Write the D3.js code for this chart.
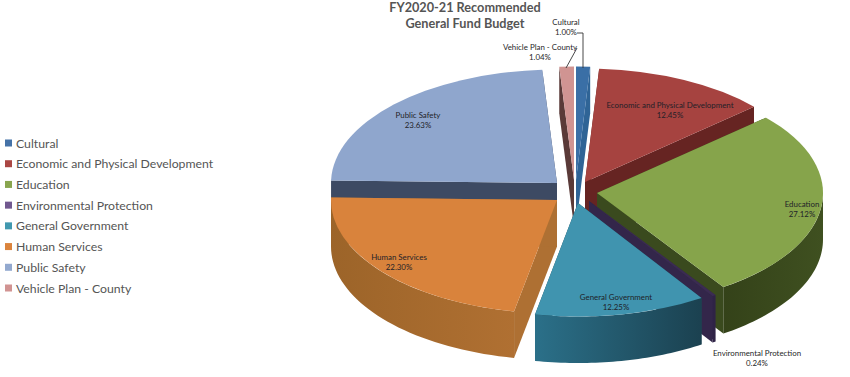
<!DOCTYPE html>
<html><head><meta charset="utf-8">
<script src="https://cdn.jsdelivr.net/npm/d3@7"></script>
<style>html,body{margin:0;padding:0;background:#fff}svg{display:block}text{font-family:Lato,"Noto Sans",sans-serif}</style>
</head><body><svg id="c" width="850" height="377"></svg>
<script>
const categories=["Cultural","Economic and Physical Development","Education","Environmental Protection","General Government","Human Services","Public Safety","Vehicle Plan - County"];
const shares=[1.00,12.45,27.12,0.24,12.25,22.30,23.63,1.04];
const titleLines=["FY2020-21 Recommended","General Fund Budget"];
const legendColors=["#4572A7","#AA4643","#89A54E","#71588F","#4198AF","#DB843D","#93A9CF","#D19392"];
const topColors=["#3a6fa6","#a64340","#86a44b","#3b2c52","#4094af","#d9833c","#8fa6cd","#d09492"];
const cutColors=["#2f6496","#662422","#3a4a1e","#33264a","#1d4654","#ae7033","#3d4a63","#5a3a38"];
const wallStops=[["#2f5f94","#2f5f94"],["#662422","#662422"],["#3f5020","#344219"],["#2f2346","#2f2346"],["#2b7089","#1b4150"],["#b07032","#9c6429"],["#3d4a63","#3d4a63"],["#5a3a38","#5a3a38"]];

// layout (slice apex after explosion, label anchors)
const apexX=[576,585,597,589,578,557,557,574];
const apexY=[180,182,193,201,203,200,183,180];
const labelX=[566,670,802,757,616,399,418,540];
const labelY=[22,105,204,353,297,257,115,47];
const paintOrder=[6,7,0,1,2,3,4,5];
const rx=226, ry=113.5, depth=46.5;

const svg=d3.select("#c");
const defs=svg.append("defs");
const pct=d3.format(".2f");
const arcs=d3.pie().sort(null).value(d=>d)(shares);
const pt=(a,r=rx)=>[r*Math.sin(a),-r*(ry/rx)*Math.cos(a)];
const line=d3.line();
const arcGen=d3.arc().innerRadius(0).outerRadius(rx);

function cutFace(i,a){
  const ax=apexX[i], ay=apexY[i], p=pt(a);
  return line([[ax,ay],[ax+p[0],ay+p[1]],[ax+p[0],ay+p[1]+depth],[ax,ay+depth]])+"Z";
}
function wall(i,a0,a1){
  const ax=apexX[i], ay=apexY[i];
  const s=d3.range(0,41).map(t=>a0+(a1-a0)*t/40).map(a=>{const p=pt(a);return [ax+p[0],ay+p[1]];});
  const b=s.map(p=>[p[0],p[1]+depth]).reverse();
  return line(s.concat(b))+"Z";
}
paintOrder.forEach(i=>{
  const d=arcs[i], g=svg.append("g"), PI=Math.PI;
  // radial cut faces, back one first
  g.append("path").attr("d",cutFace(i,d.startAngle)).attr("fill",cutColors[i]);
  g.append("path").attr("d",cutFace(i,d.endAngle)).attr("fill",cutColors[i]);
  const a0=Math.max(d.startAngle,PI/2), a1=Math.min(d.endAngle,3*PI/2);
  if(a1>a0){
    const ps=[pt(a0),pt(a1)];
    const gid="w"+i;
    const lg=defs.append("linearGradient").attr("id",gid).attr("gradientUnits","userSpaceOnUse")
      .attr("x1",apexX[i]+Math.min(ps[0][0],ps[1][0])).attr("x2",apexX[i]+Math.max(ps[0][0],ps[1][0])).attr("y1",0).attr("y2",0);
    const sw=(i===4);
    lg.append("stop").attr("offset",0).attr("stop-color",wallStops[i][sw?0:1]);
    lg.append("stop").attr("offset",1).attr("stop-color",wallStops[i][sw?1:0]);
    g.append("path").attr("d",wall(i,a0,a1)).attr("fill",`url(#${gid})`);
  }
  g.append("path").attr("d",arcGen(d))
    .attr("transform",`translate(${apexX[i]},${apexY[i]}) scale(1,${ry/rx})`)
    .attr("fill",topColors[i]);
});

// leader lines
svg.append("path").attr("d",line([[577,33],[583,33],[583,68]])).attr("fill","none").attr("stroke","#333").attr("stroke-width",0.9);
svg.append("path").attr("d",line([[577,48],[566,68]])).attr("fill","none").attr("stroke","#333").attr("stroke-width",0.9);

// data labels
categories.forEach((c,i)=>{
  const t=svg.append("text").attr("text-anchor","middle").attr("font-size",7.9).attr("fill","#1f1f28");
  t.append("tspan").attr("x",labelX[i]).attr("y",labelY[i]+3).text(c);
  t.append("tspan").attr("x",labelX[i]).attr("y",labelY[i]+13).text(pct(shares[i])+"%");
});

// title
titleLines.forEach((s,i)=>svg.append("text").attr("x",465).attr("y",12+i*16).attr("text-anchor","middle")
  .attr("font-size",12.7).attr("font-weight",700).attr("fill","#555").text(s));

// legend
const legendY=d3.scalePoint().domain(categories).range([143,288]);
const lg=svg.append("g");
categories.forEach((c,i)=>{
  lg.append("rect").attr("x",5).attr("y",legendY(c)-3.5).attr("width",7).attr("height",7).attr("fill",legendColors[i]);
  lg.append("text").attr("x",16).attr("y",legendY(c)+4.5).attr("font-size",12.25).attr("fill","#555").text(c);
});
</script></body></html>
